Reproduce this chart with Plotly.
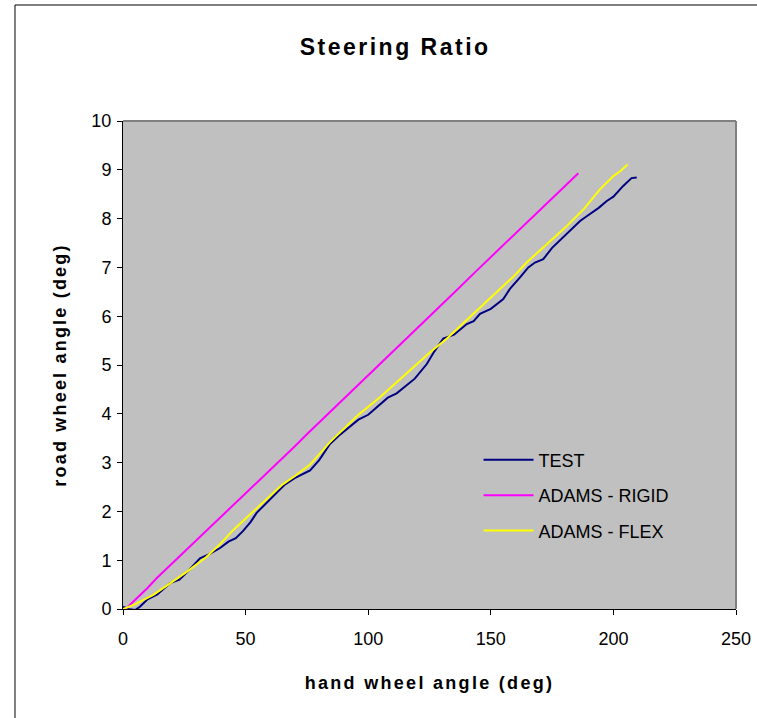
import plotly.graph_objects as go

# ---- data ----
test_x = [0, 2, 5, 7, 10, 14, 19.2, 23, 27, 31.4, 35, 39.6, 43, 46, 49, 52, 54.5, 58, 62, 66, 70, 76.3,
          80, 84.4, 88, 92, 96, 100, 104.8, 108, 111.6, 115, 119, 123.9, 127, 130.6, 135, 140.2, 143,
          145.6, 150, 155.1, 157.8, 162, 165.3, 168, 171.4, 175, 180, 186.4, 190, 194, 197.3, 200, 204,
          207.4, 209.5]
test_y = [0.05, 0.0, -0.02, 0.05, 0.2, 0.3, 0.53, 0.6, 0.8, 1.04, 1.12, 1.25, 1.38, 1.45, 1.6, 1.78, 1.97,
          2.15, 2.35, 2.55, 2.68, 2.84, 3.05, 3.38, 3.55, 3.72, 3.88, 3.98, 4.18, 4.33, 4.42, 4.56, 4.72, 5.02,
          5.28, 5.54, 5.62, 5.84, 5.9, 6.05, 6.15, 6.35, 6.56, 6.8, 7.0, 7.1, 7.17, 7.4, 7.65, 7.95, 8.08,
          8.22, 8.36, 8.45, 8.67, 8.83, 8.84]

rigid_x = [0, 5, 10, 13.7, 16, 20, 24.6, 30, 35, 40, 46.4, 51.8, 54.5, 60, 65, 70, 75, 80, 85, 90, 95,
           103.5, 110, 117, 125, 135, 145, 150.4, 153.8, 160, 170, 180, 185.7]
rigid_y = [-0.05, 0.19, 0.43, 0.63, 0.74, 0.93, 1.15, 1.40, 1.64, 1.89, 2.20, 2.46, 2.58, 2.85, 3.09,
           3.33, 3.58, 3.82, 4.06, 4.30, 4.54, 4.95, 5.27, 5.61, 6.0, 6.48, 6.97, 7.23, 7.39, 7.69, 8.18,
           8.66, 8.93]

flex_x = [0, 5, 12.4, 20, 26, 34.1, 40, 45, 50, 54.5, 60, 65, 70, 76.3, 84.4, 90, 96, 104.8, 111.6, 118,
          125, 132, 140, 147, 153.8, 160, 164.6, 170, 180, 188, 194.5, 200, 203, 205.8]
flex_y = [0, 0.1, 0.29, 0.55, 0.76, 1.07, 1.35, 1.62, 1.85, 2.06, 2.3, 2.55, 2.72, 2.96, 3.42, 3.7, 3.98,
          4.34, 4.65, 4.95, 5.25, 5.54, 5.92, 6.25, 6.56, 6.85, 7.1, 7.35, 7.8, 8.2, 8.6, 8.87, 8.98, 9.11]

x_ticks = [0, 50, 100, 150, 200, 250]
y_ticks = list(range(0, 11))

FONT = "Liberation Sans, Arial, sans-serif"


def spaced(txt, px):
    return f'<span style="letter-spacing:{px}px"><b>{txt}</b></span>'


fig = go.Figure()
fig.add_trace(go.Scatter(x=test_x, y=test_y, mode="lines", name="TEST",
                         line=dict(color="#000080", width=2), legendgroup="a"))
fig.add_trace(go.Scatter(x=rigid_x, y=rigid_y, mode="lines", name="ADAMS - RIGID",
                         line=dict(color="#FF00FF", width=2), legendgroup="b"))
fig.add_trace(go.Scatter(x=flex_x, y=flex_y, mode="lines", name="ADAMS - FLEX",
                         line=dict(color="#FFFF00", width=2), legendgroup="c"))

fig.update_layout(
    width=757, height=718,
    margin=dict(l=123, r=21, t=121, b=109),
    paper_bgcolor="white",
    plot_bgcolor="#C0C0C0",
    font=dict(family=FONT, size=18, color="black"),
    title=dict(text=spaced("Steering Ratio", 2.5), x=0.522, xanchor="center", y=0.935, yanchor="middle",
               font=dict(size=23, family=FONT)),
    showlegend=True,
    legend=dict(x=0.58, y=0.343, xanchor="left", yanchor="top", bgcolor="rgba(0,0,0,0)",
                traceorder="grouped", tracegroupgap=9, itemwidth=50,
                font=dict(size=18, family=FONT)),
    xaxis=dict(range=[0, 250], tickvals=x_ticks, showgrid=False, zeroline=False, automargin=False,
               showline=True, linecolor="black", linewidth=1,
               ticks="outside", ticklen=5, tickcolor="black", ticklabelstandoff=8,
               title=dict(text=spaced("hand wheel angle (deg)", 2.3), standoff=28,
                          font=dict(size=18, family=FONT))),
    yaxis=dict(range=[0, 10], tickvals=y_ticks, showgrid=False, zeroline=False, automargin=False,
               showline=True, linecolor="black", linewidth=1,
               ticks="outside", ticklen=5, tickcolor="black", ticklabelstandoff=2,
               title=dict(text=spaced("road wheel angle (deg)", 2.2), standoff=20,
                          font=dict(size=18, family=FONT))),
    shapes=[
        # gray plot-area border (top and right)
        dict(type="line", xref="paper", yref="paper", x0=0, x1=1, y0=1, y1=1,
             line=dict(color="#808080", width=2)),
        dict(type="line", xref="paper", yref="paper", x0=1, x1=1, y0=0, y1=1,
             line=dict(color="#808080", width=2)),
        # outer chart frame (top and left)
        dict(type="line", xref="paper", yref="paper", x0=-0.1762, x1=1.05, y0=1.2377, y1=1.2377,
             line=dict(color="black", width=1)),
        dict(type="line", xref="paper", yref="paper", x0=-0.1762, x1=-0.1762, y0=-0.25, y1=1.2377,
             line=dict(color="black", width=1)),
    ],
)

fig.write_html("out.html")
